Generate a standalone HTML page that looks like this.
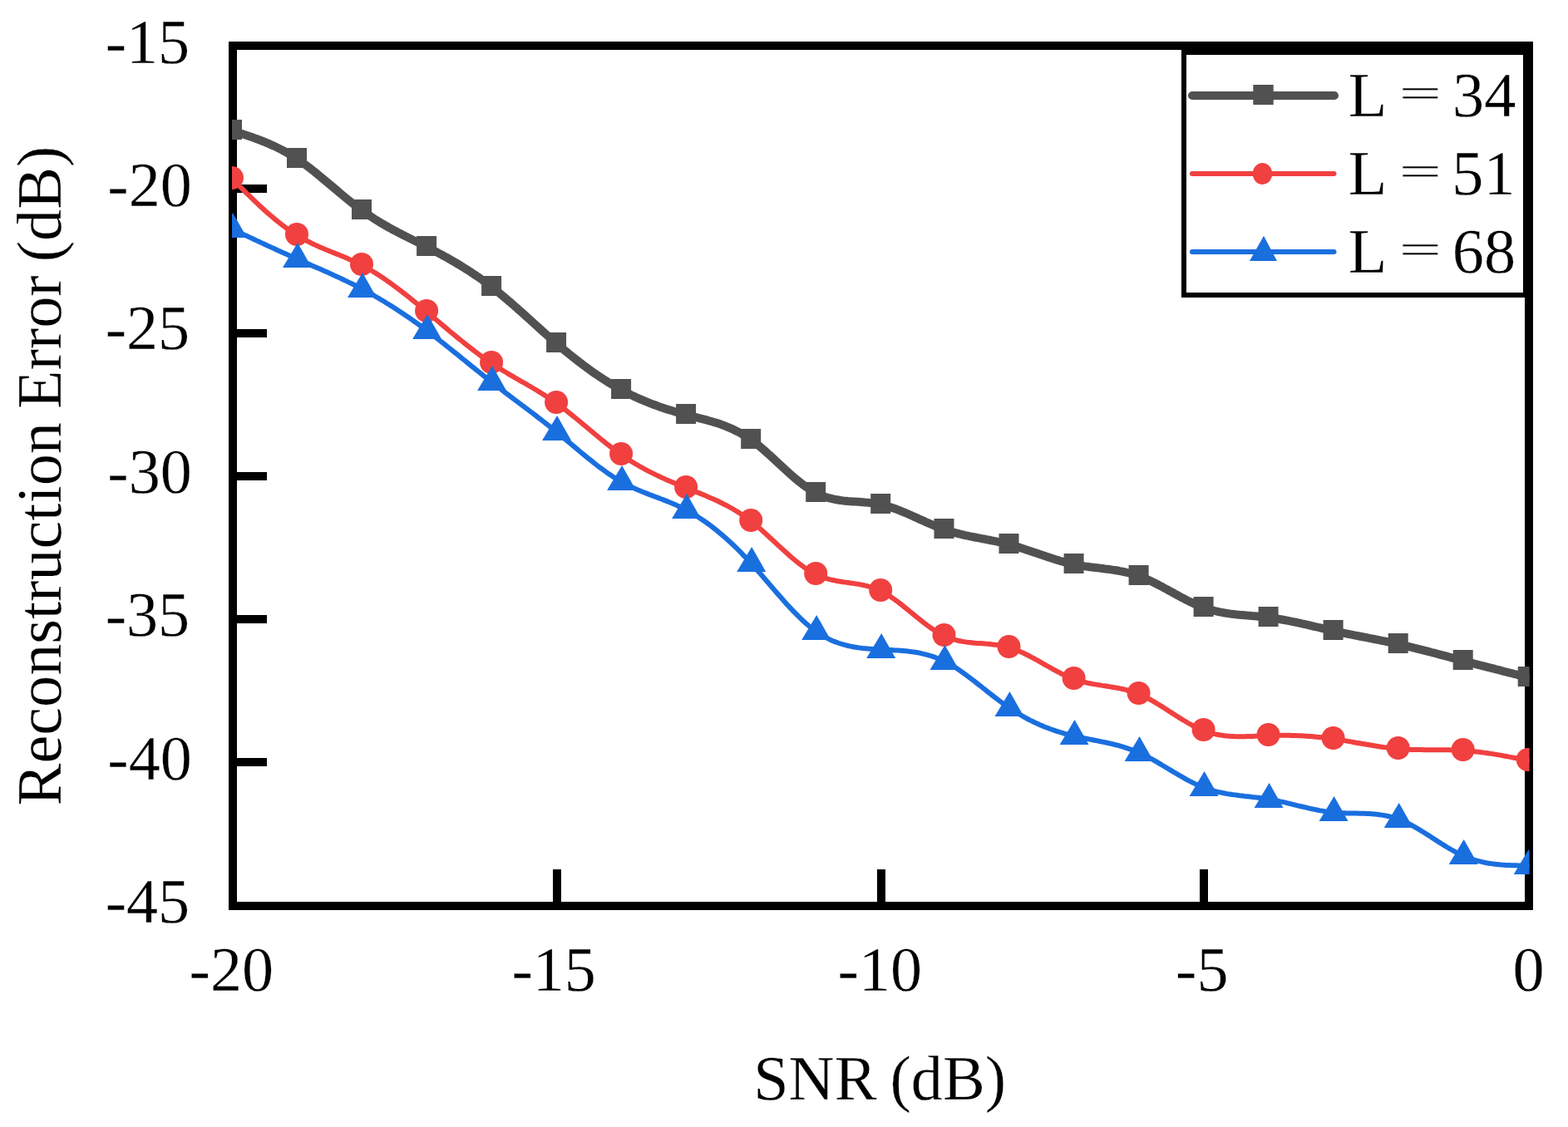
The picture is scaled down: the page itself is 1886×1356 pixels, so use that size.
<!DOCTYPE html>
<html lang="en"><head><meta charset="utf-8"><title>Reconstruction Error (dB)</title>
<style>html,body{margin:0;padding:0;background:#fff}body{width:1886px;height:1356px;overflow:hidden}svg{display:block}text{font-family:"Liberation Serif",serif;font-size:76.2px;fill:#000;stroke:#fff;stroke-width:0.3px;stroke-linejoin:round}</style>
</head><body>
<svg width="1886" height="1356" viewBox="0 0 1886 1356">
<rect width="1886" height="1356" fill="#fff"/>
<defs><clipPath id="plot"><rect x="279" y="55" width="1560.6" height="1035"/></clipPath></defs>
<g shape-rendering="crispEdges">
<rect x="280.1" y="55" width="1558.6" height="1034.5" fill="none" stroke="#000" stroke-width="10"/>
<rect x="284" y="222" width="37" height="10" fill="#000"/>
<rect x="284" y="396" width="37" height="10" fill="#000"/>
<rect x="284" y="568" width="37" height="10" fill="#000"/>
<rect x="284" y="740" width="37" height="10" fill="#000"/>
<rect x="284" y="912" width="37" height="10" fill="#000"/>
<rect x="665.0" y="1046.4" width="10" height="39" fill="#000"/>
<rect x="1055.0" y="1046.4" width="10" height="39" fill="#000"/>
<rect x="1443.3" y="1046.4" width="10" height="39" fill="#000"/>
</g>
<g clip-path="url(#plot)">
<polyline points="279.0,157.0 282.0,158.0 285.0,158.9 288.0,159.9 291.0,160.9 294.0,161.9 297.0,162.9 300.0,164.0 303.0,165.0 306.0,166.1 309.0,167.2 312.0,168.3 315.0,169.5 318.0,170.7 321.0,172.0 324.0,173.2 327.0,174.6 330.0,175.9 333.0,177.4 336.0,178.9 339.0,180.4 342.0,182.0 345.0,183.7 348.0,185.4 351.0,187.2 354.0,189.0 357.0,191.0 360.0,193.0 363.0,195.1 366.0,197.3 369.0,199.5 372.0,201.7 375.0,204.1 378.0,206.4 381.0,208.9 384.0,211.3 387.0,213.8 390.0,216.3 393.0,218.8 396.0,221.3 399.0,223.9 402.0,226.4 405.0,228.9 408.0,231.5 411.0,234.0 414.0,236.5 417.0,239.0 420.0,241.4 423.0,243.8 426.0,246.2 429.0,248.5 432.0,250.8 435.0,253.0 438.0,255.1 441.0,257.2 444.0,259.2 447.0,261.2 450.0,263.2 453.0,265.0 456.0,266.9 459.0,268.7 462.0,270.4 465.0,272.1 468.0,273.8 471.0,275.5 474.0,277.1 477.0,278.7 480.0,280.3 483.0,281.8 486.0,283.4 489.0,284.9 492.0,286.4 495.0,287.9 498.0,289.4 501.0,290.9 504.0,292.4 507.0,293.9 510.0,295.4 513.0,297.0 516.0,298.5 519.0,300.1 522.0,301.6 525.0,303.2 528.0,304.8 531.0,306.4 534.0,308.1 537.0,309.7 540.0,311.4 543.0,313.1 546.0,314.8 549.0,316.6 552.0,318.4 555.0,320.2 558.0,322.1 561.0,324.0 564.0,325.9 567.0,327.8 570.0,329.8 573.0,331.9 576.0,333.9 579.0,336.0 582.0,338.2 585.0,340.4 588.0,342.6 591.0,344.9 594.0,347.3 597.0,349.7 600.0,352.1 603.0,354.6 606.0,357.1 609.0,359.6 612.0,362.2 615.0,364.7 618.0,367.4 621.0,370.0 624.0,372.7 627.0,375.3 630.0,378.0 633.0,380.7 636.0,383.4 639.0,386.2 642.0,388.9 645.0,391.6 648.0,394.3 651.0,397.0 654.0,399.7 657.0,402.4 660.0,405.0 663.0,407.7 666.0,410.3 669.0,412.9 672.0,415.5 675.0,418.0 678.0,420.6 681.0,423.0 684.0,425.5 687.0,427.9 690.0,430.3 693.0,432.7 696.0,435.0 699.0,437.3 702.0,439.6 705.0,441.8 708.0,444.0 711.0,446.2 714.0,448.3 717.0,450.4 720.0,452.4 723.0,454.4 726.0,456.4 729.0,458.3 732.0,460.2 735.0,462.0 738.0,463.8 741.0,465.6 744.0,467.3 747.0,468.9 750.0,470.5 753.0,472.1 756.0,473.6 759.0,475.1 762.0,476.6 765.0,478.0 768.0,479.3 771.0,480.6 774.0,481.9 777.0,483.2 780.0,484.4 783.0,485.6 786.0,486.7 789.0,487.8 792.0,488.9 795.0,489.9 798.0,490.9 801.0,491.9 804.0,492.9 807.0,493.8 810.0,494.7 813.0,495.6 816.0,496.5 819.0,497.3 822.0,498.2 825.0,499.0 828.0,499.7 831.0,500.5 834.0,501.3 837.0,502.0 840.0,502.8 843.0,503.6 846.0,504.3 849.0,505.1 852.0,506.0 855.0,506.8 858.0,507.7 861.0,508.6 864.0,509.6 867.0,510.6 870.0,511.7 873.0,512.9 876.0,514.1 879.0,515.4 882.0,516.7 885.0,518.2 888.0,519.7 891.0,521.3 894.0,523.1 897.0,524.9 900.0,526.8 903.0,528.9 906.0,531.1 909.0,533.4 912.0,535.7 915.0,538.2 918.0,540.8 921.0,543.4 924.0,546.1 927.0,548.8 930.0,551.5 933.0,554.3 936.0,557.1 939.0,559.9 942.0,562.7 945.0,565.4 948.0,568.2 951.0,570.9 954.0,573.5 957.0,576.1 960.0,578.5 963.0,580.9 966.0,583.2 969.0,585.4 972.0,587.5 975.0,589.5 978.0,591.3 981.0,592.9 984.0,594.4 987.0,595.7 990.0,596.9 993.0,598.0 996.0,598.9 999.0,599.7 1002.0,600.4 1005.0,601.0 1008.0,601.5 1011.0,602.0 1014.0,602.4 1017.0,602.7 1020.0,603.0 1023.0,603.2 1026.0,603.4 1029.0,603.6 1032.0,603.8 1035.0,604.0 1038.0,604.2 1041.0,604.5 1044.0,604.7 1047.0,605.1 1050.0,605.4 1053.0,605.9 1056.0,606.4 1059.0,607.0 1062.0,607.6 1065.0,608.4 1068.0,609.3 1071.0,610.2 1074.0,611.2 1077.0,612.3 1080.0,613.4 1083.0,614.6 1086.0,615.8 1089.0,617.0 1092.0,618.3 1095.0,619.7 1098.0,621.0 1101.0,622.4 1104.0,623.7 1107.0,625.1 1110.0,626.4 1113.0,627.8 1116.0,629.1 1119.0,630.4 1122.0,631.7 1125.0,633.0 1128.0,634.2 1131.0,635.4 1134.0,636.5 1137.0,637.5 1140.0,638.5 1143.0,639.4 1146.0,640.3 1149.0,641.1 1152.0,641.9 1155.0,642.7 1158.0,643.4 1161.0,644.1 1164.0,644.7 1167.0,645.3 1170.0,646.0 1173.0,646.5 1176.0,647.1 1179.0,647.7 1182.0,648.3 1185.0,648.8 1188.0,649.4 1191.0,650.0 1194.0,650.6 1197.0,651.2 1200.0,651.8 1203.0,652.5 1206.0,653.1 1209.0,653.8 1212.0,654.6 1215.0,655.4 1218.0,656.2 1221.0,657.1 1224.0,658.0 1227.0,658.9 1230.0,659.9 1233.0,660.9 1236.0,661.9 1239.0,662.9 1242.0,663.9 1245.0,664.9 1248.0,666.0 1251.0,667.0 1254.0,668.0 1257.0,669.0 1260.0,670.1 1263.0,671.0 1266.0,672.0 1269.0,673.0 1272.0,673.9 1275.0,674.8 1278.0,675.6 1281.0,676.5 1284.0,677.2 1287.0,678.0 1290.0,678.7 1293.0,679.3 1296.0,679.9 1299.0,680.4 1302.0,680.9 1305.0,681.4 1308.0,681.8 1311.0,682.2 1314.0,682.6 1317.0,682.9 1320.0,683.3 1323.0,683.6 1326.0,684.0 1329.0,684.4 1332.0,684.7 1335.0,685.1 1338.0,685.6 1341.0,686.0 1344.0,686.5 1347.0,687.1 1350.0,687.6 1353.0,688.3 1356.0,689.0 1359.0,689.7 1362.0,690.6 1365.0,691.5 1368.0,692.4 1371.0,693.5 1374.0,694.7 1377.0,695.9 1380.0,697.2 1383.0,698.6 1386.0,700.0 1389.0,701.5 1392.0,703.0 1395.0,704.6 1398.0,706.2 1401.0,707.8 1404.0,709.4 1407.0,711.1 1410.0,712.7 1413.0,714.4 1416.0,716.0 1419.0,717.7 1422.0,719.3 1425.0,720.8 1428.0,722.4 1431.0,723.9 1434.0,725.3 1437.0,726.7 1440.0,728.0 1443.0,729.2 1446.0,730.4 1449.0,731.5 1452.0,732.5 1455.0,733.4 1458.0,734.2 1461.0,735.0 1464.0,735.7 1467.0,736.4 1470.0,736.9 1473.0,737.5 1476.0,737.9 1479.0,738.4 1482.0,738.8 1485.0,739.1 1488.0,739.5 1491.0,739.8 1494.0,740.0 1497.0,740.3 1500.0,740.6 1503.0,740.8 1506.0,741.1 1509.0,741.3 1512.0,741.6 1515.0,741.9 1518.0,742.2 1521.0,742.5 1524.0,742.8 1527.0,743.2 1530.0,743.6 1533.0,744.0 1536.0,744.5 1539.0,745.0 1542.0,745.5 1545.0,746.0 1548.0,746.6 1551.0,747.2 1554.0,747.8 1557.0,748.4 1560.0,749.0 1563.0,749.7 1566.0,750.4 1569.0,751.0 1572.0,751.7 1575.0,752.4 1578.0,753.1 1581.0,753.8 1584.0,754.5 1587.0,755.2 1590.0,755.9 1593.0,756.6 1596.0,757.3 1599.0,758.0 1602.0,758.6 1605.0,759.3 1608.0,759.9 1611.0,760.6 1614.0,761.2 1617.0,761.8 1620.0,762.5 1623.0,763.1 1626.0,763.7 1629.0,764.3 1632.0,764.9 1635.0,765.5 1638.0,766.0 1641.0,766.6 1644.0,767.2 1647.0,767.8 1650.0,768.4 1653.0,769.0 1656.0,769.6 1659.0,770.2 1662.0,770.8 1665.0,771.4 1668.0,772.0 1671.0,772.7 1674.0,773.3 1677.0,774.0 1680.0,774.6 1683.0,775.3 1686.0,776.0 1689.0,776.7 1692.0,777.4 1695.0,778.1 1698.0,778.8 1701.0,779.6 1704.0,780.3 1707.0,781.1 1710.0,781.8 1713.0,782.6 1716.0,783.4 1719.0,784.2 1722.0,785.0 1725.0,785.7 1728.0,786.5 1731.0,787.3 1734.0,788.1 1737.0,788.9 1740.0,789.7 1743.0,790.5 1746.0,791.3 1749.0,792.1 1752.0,793.0 1755.0,793.8 1758.0,794.6 1761.0,795.4 1764.0,796.1 1767.0,796.9 1770.0,797.7 1773.0,798.5 1776.0,799.3 1779.0,800.1 1782.0,800.8 1785.0,801.6 1788.0,802.4 1791.0,803.2 1794.0,803.9 1797.0,804.7 1800.0,805.5 1803.0,806.2 1806.0,807.0 1809.0,807.8 1812.0,808.5 1815.0,809.3 1818.0,810.0 1821.0,810.8 1824.0,811.5 1827.0,812.3 1830.0,813.1 1833.0,813.8 1836.0,814.6 1837.7,815.0" fill="none" stroke="#515151" stroke-width="10" stroke-linejoin="round" stroke-linecap="round"/>
<rect x="267.0" y="144.0" width="24" height="24" fill="#515151"/>
<rect x="345.0" y="178.0" width="24" height="24" fill="#515151"/>
<rect x="423.0" y="240.0" width="24" height="24" fill="#515151"/>
<rect x="501.1" y="284.0" width="24" height="24" fill="#515151"/>
<rect x="579.1" y="332.0" width="24" height="24" fill="#515151"/>
<rect x="657.1" y="400.0" width="24" height="24" fill="#515151"/>
<rect x="735.1" y="456.0" width="24" height="24" fill="#515151"/>
<rect x="813.1" y="486.0" width="24" height="24" fill="#515151"/>
<rect x="891.2" y="516.0" width="24" height="24" fill="#515151"/>
<rect x="969.2" y="580.0" width="24" height="24" fill="#515151"/>
<rect x="1047.2" y="594.0" width="24" height="24" fill="#515151"/>
<rect x="1123.5" y="624.0" width="24" height="24" fill="#515151"/>
<rect x="1201.5" y="642.0" width="24" height="24" fill="#515151"/>
<rect x="1279.6" y="666.0" width="24" height="24" fill="#515151"/>
<rect x="1357.6" y="680.0" width="24" height="24" fill="#515151"/>
<rect x="1435.6" y="718.0" width="24" height="24" fill="#515151"/>
<rect x="1513.6" y="730.0" width="24" height="24" fill="#515151"/>
<rect x="1591.6" y="746.0" width="24" height="24" fill="#515151"/>
<rect x="1669.7" y="762.0" width="24" height="24" fill="#515151"/>
<rect x="1747.7" y="782.0" width="24" height="24" fill="#515151"/>
<rect x="1825.7" y="802.0" width="24" height="24" fill="#515151"/>
<polyline points="279.0,215.0 282.0,218.0 285.0,221.0 288.0,224.0 291.0,226.9 294.0,229.9 297.0,232.8 300.0,235.7 303.0,238.6 306.0,241.5 309.0,244.4 312.0,247.2 315.0,249.9 318.0,252.7 321.0,255.4 324.0,258.0 327.0,260.6 330.0,263.1 333.0,265.6 336.0,268.0 339.0,270.4 342.0,272.7 345.0,274.9 348.0,277.0 351.0,279.1 354.0,281.1 357.0,283.0 360.0,284.8 363.0,286.5 366.0,288.2 369.0,289.8 372.0,291.3 375.0,292.8 378.0,294.2 381.0,295.6 384.0,296.9 387.0,298.2 390.0,299.5 393.0,300.7 396.0,302.0 399.0,303.2 402.0,304.4 405.0,305.6 408.0,306.8 411.0,308.0 414.0,309.3 417.0,310.6 420.0,311.9 423.0,313.2 426.0,314.6 429.0,316.0 432.0,317.5 435.0,319.0 438.0,320.6 441.0,322.2 444.0,323.9 447.0,325.7 450.0,327.5 453.0,329.4 456.0,331.3 459.0,333.3 462.0,335.3 465.0,337.4 468.0,339.5 471.0,341.7 474.0,343.9 477.0,346.1 480.0,348.4 483.0,350.7 486.0,353.0 489.0,355.3 492.0,357.7 495.0,360.1 498.0,362.6 501.0,365.0 504.0,367.5 507.0,370.0 510.0,372.4 513.0,374.9 516.0,377.5 519.0,380.0 522.0,382.5 525.0,385.0 528.0,387.6 531.0,390.1 534.0,392.6 537.0,395.1 540.0,397.7 543.0,400.2 546.0,402.6 549.0,405.1 552.0,407.6 555.0,410.0 558.0,412.4 561.0,414.8 564.0,417.2 567.0,419.5 570.0,421.8 573.0,424.1 576.0,426.3 579.0,428.5 582.0,430.7 585.0,432.8 588.0,434.9 591.0,436.9 594.0,438.9 597.0,440.9 600.0,442.8 603.0,444.6 606.0,446.5 609.0,448.3 612.0,450.1 615.0,451.8 618.0,453.6 621.0,455.3 624.0,457.1 627.0,458.8 630.0,460.5 633.0,462.2 636.0,464.0 639.0,465.7 642.0,467.5 645.0,469.3 648.0,471.1 651.0,473.0 654.0,474.9 657.0,476.8 660.0,478.7 663.0,480.8 666.0,482.8 669.0,484.9 672.0,487.1 675.0,489.3 678.0,491.6 681.0,493.9 684.0,496.3 687.0,498.7 690.0,501.1 693.0,503.5 696.0,506.0 699.0,508.5 702.0,511.0 705.0,513.5 708.0,516.0 711.0,518.5 714.0,521.0 717.0,523.5 720.0,526.0 723.0,528.5 726.0,530.9 729.0,533.3 732.0,535.7 735.0,538.0 738.0,540.3 741.0,542.6 744.0,544.8 747.0,546.9 750.0,549.0 753.0,551.0 756.0,553.0 759.0,554.9 762.0,556.7 765.0,558.5 768.0,560.3 771.0,562.0 774.0,563.7 777.0,565.3 780.0,566.9 783.0,568.4 786.0,569.9 789.0,571.4 792.0,572.8 795.0,574.2 798.0,575.6 801.0,576.9 804.0,578.2 807.0,579.5 810.0,580.8 813.0,582.1 816.0,583.3 819.0,584.5 822.0,585.7 825.0,586.9 828.0,588.1 831.0,589.3 834.0,590.5 837.0,591.7 840.0,592.9 843.0,594.1 846.0,595.3 849.0,596.6 852.0,597.9 855.0,599.2 858.0,600.5 861.0,601.8 864.0,603.2 867.0,604.7 870.0,606.2 873.0,607.7 876.0,609.3 879.0,611.0 882.0,612.7 885.0,614.5 888.0,616.4 891.0,618.3 894.0,620.3 897.0,622.4 900.0,624.6 903.0,626.9 906.0,629.2 909.0,631.7 912.0,634.2 915.0,636.8 918.0,639.5 921.0,642.2 924.0,644.9 927.0,647.7 930.0,650.5 933.0,653.3 936.0,656.1 939.0,658.9 942.0,661.6 945.0,664.3 948.0,667.0 951.0,669.7 954.0,672.2 957.0,674.7 960.0,677.1 963.0,679.5 966.0,681.7 969.0,683.8 972.0,685.8 975.0,687.6 978.0,689.3 981.0,690.9 984.0,692.3 987.0,693.6 990.0,694.7 993.0,695.7 996.0,696.6 999.0,697.4 1002.0,698.0 1005.0,698.7 1008.0,699.2 1011.0,699.7 1014.0,700.2 1017.0,700.6 1020.0,701.0 1023.0,701.5 1026.0,701.9 1029.0,702.4 1032.0,702.8 1035.0,703.4 1038.0,704.0 1041.0,704.7 1044.0,705.4 1047.0,706.3 1050.0,707.2 1053.0,708.3 1056.0,709.5 1059.0,710.9 1062.0,712.4 1065.0,714.1 1068.0,715.9 1071.0,717.8 1074.0,719.9 1077.0,722.0 1080.0,724.2 1083.0,726.5 1086.0,728.9 1089.0,731.3 1092.0,733.7 1095.0,736.2 1098.0,738.6 1101.0,741.1 1104.0,743.5 1107.0,745.9 1110.0,748.3 1113.0,750.6 1116.0,752.9 1119.0,755.0 1122.0,757.1 1125.0,759.1 1128.0,760.9 1131.0,762.7 1134.0,764.3 1137.0,765.7 1140.0,767.0 1143.0,768.1 1146.0,769.1 1149.0,769.9 1152.0,770.7 1155.0,771.3 1158.0,771.9 1161.0,772.4 1164.0,772.8 1167.0,773.1 1170.0,773.4 1173.0,773.7 1176.0,773.9 1179.0,774.1 1182.0,774.3 1185.0,774.6 1188.0,774.8 1191.0,775.1 1194.0,775.4 1197.0,775.7 1200.0,776.1 1203.0,776.6 1206.0,777.2 1209.0,777.8 1212.0,778.6 1215.0,779.4 1218.0,780.4 1221.0,781.5 1224.0,782.7 1227.0,784.0 1230.0,785.3 1233.0,786.8 1236.0,788.3 1239.0,789.8 1242.0,791.4 1245.0,793.0 1248.0,794.7 1251.0,796.4 1254.0,798.1 1257.0,799.8 1260.0,801.5 1263.0,803.2 1266.0,804.9 1269.0,806.5 1272.0,808.1 1275.0,809.7 1278.0,811.2 1281.0,812.6 1284.0,813.9 1287.0,815.2 1290.0,816.4 1293.0,817.5 1296.0,818.5 1299.0,819.4 1302.0,820.2 1305.0,821.0 1308.0,821.7 1311.0,822.3 1314.0,822.9 1317.0,823.4 1320.0,823.9 1323.0,824.4 1326.0,824.9 1329.0,825.3 1332.0,825.8 1335.0,826.3 1338.0,826.7 1341.0,827.3 1344.0,827.8 1347.0,828.4 1350.0,829.0 1353.0,829.7 1356.0,830.5 1359.0,831.3 1362.0,832.2 1365.0,833.3 1368.0,834.4 1371.0,835.6 1374.0,836.9 1377.0,838.4 1380.0,839.9 1383.0,841.5 1386.0,843.1 1389.0,844.9 1392.0,846.7 1395.0,848.5 1398.0,850.4 1401.0,852.3 1404.0,854.2 1407.0,856.2 1410.0,858.1 1413.0,860.0 1416.0,862.0 1419.0,863.9 1422.0,865.7 1425.0,867.5 1428.0,869.3 1431.0,871.0 1434.0,872.7 1437.0,874.2 1440.0,875.7 1443.0,877.1 1446.0,878.4 1449.0,879.5 1452.0,880.6 1455.0,881.5 1458.0,882.4 1461.0,883.1 1464.0,883.7 1467.0,884.3 1470.0,884.8 1473.0,885.2 1476.0,885.5 1479.0,885.8 1482.0,885.9 1485.0,886.1 1488.0,886.2 1491.0,886.2 1494.0,886.2 1497.0,886.2 1500.0,886.1 1503.0,886.0 1506.0,885.9 1509.0,885.8 1512.0,885.6 1515.0,885.5 1518.0,885.3 1521.0,885.2 1524.0,885.1 1527.0,885.0 1530.0,884.9 1533.0,884.8 1536.0,884.7 1539.0,884.7 1542.0,884.7 1545.0,884.7 1548.0,884.7 1551.0,884.8 1554.0,884.9 1557.0,884.9 1560.0,885.1 1563.0,885.2 1566.0,885.3 1569.0,885.5 1572.0,885.7 1575.0,885.9 1578.0,886.1 1581.0,886.4 1584.0,886.7 1587.0,887.0 1590.0,887.3 1593.0,887.6 1596.0,888.0 1599.0,888.4 1602.0,888.8 1605.0,889.2 1608.0,889.6 1611.0,890.1 1614.0,890.6 1617.0,891.1 1620.0,891.6 1623.0,892.1 1626.0,892.6 1629.0,893.2 1632.0,893.7 1635.0,894.2 1638.0,894.8 1641.0,895.3 1644.0,895.8 1647.0,896.3 1650.0,896.8 1653.0,897.3 1656.0,897.8 1659.0,898.3 1662.0,898.7 1665.0,899.1 1668.0,899.5 1671.0,899.9 1674.0,900.3 1677.0,900.6 1680.0,900.9 1683.0,901.1 1686.0,901.3 1689.0,901.5 1692.0,901.7 1695.0,901.8 1698.0,901.9 1701.0,902.0 1704.0,902.0 1707.0,902.1 1710.0,902.1 1713.0,902.2 1716.0,902.2 1719.0,902.2 1722.0,902.2 1725.0,902.2 1728.0,902.2 1731.0,902.2 1734.0,902.2 1737.0,902.2 1740.0,902.3 1743.0,902.3 1746.0,902.4 1749.0,902.5 1752.0,902.6 1755.0,902.7 1758.0,902.9 1761.0,903.1 1764.0,903.3 1767.0,903.6 1770.0,903.8 1773.0,904.1 1776.0,904.5 1779.0,904.8 1782.0,905.2 1785.0,905.6 1788.0,906.0 1791.0,906.5 1794.0,906.9 1797.0,907.4 1800.0,907.9 1803.0,908.4 1806.0,908.9 1809.0,909.5 1812.0,910.0 1815.0,910.6 1818.0,911.1 1821.0,911.7 1824.0,912.3 1827.0,912.9 1830.0,913.5 1833.0,914.1 1836.0,914.7 1837.7,915.0" fill="none" stroke="#F14040" stroke-width="6" stroke-linejoin="round" stroke-linecap="round"/>
<circle cx="279.0" cy="214.0" r="14" fill="#F14040"/>
<circle cx="357.0" cy="282.0" r="14" fill="#F14040"/>
<circle cx="435.0" cy="318.0" r="14" fill="#F14040"/>
<circle cx="513.1" cy="374.0" r="14" fill="#F14040"/>
<circle cx="591.1" cy="436.0" r="14" fill="#F14040"/>
<circle cx="669.1" cy="484.0" r="14" fill="#F14040"/>
<circle cx="747.1" cy="546.0" r="14" fill="#F14040"/>
<circle cx="825.1" cy="586.0" r="14" fill="#F14040"/>
<circle cx="903.2" cy="626.0" r="14" fill="#F14040"/>
<circle cx="981.2" cy="690.0" r="14" fill="#F14040"/>
<circle cx="1059.2" cy="710.0" r="14" fill="#F14040"/>
<circle cx="1135.5" cy="764.0" r="14" fill="#F14040"/>
<circle cx="1213.5" cy="778.0" r="14" fill="#F14040"/>
<circle cx="1291.6" cy="816.0" r="14" fill="#F14040"/>
<circle cx="1369.6" cy="834.0" r="14" fill="#F14040"/>
<circle cx="1447.6" cy="878.0" r="14" fill="#F14040"/>
<circle cx="1525.6" cy="884.0" r="14" fill="#F14040"/>
<circle cx="1603.6" cy="888.0" r="14" fill="#F14040"/>
<circle cx="1681.7" cy="900.0" r="14" fill="#F14040"/>
<circle cx="1759.7" cy="902.0" r="14" fill="#F14040"/>
<circle cx="1837.7" cy="914.0" r="14" fill="#F14040"/>
<polyline points="279.0,275.5 282.0,276.9 285.0,278.3 288.0,279.7 291.0,281.2 294.0,282.6 297.0,284.0 300.0,285.4 303.0,286.8 306.0,288.2 309.0,289.6 312.0,291.0 315.0,292.4 318.0,293.8 321.0,295.2 324.0,296.6 327.0,297.9 330.0,299.3 333.0,300.7 336.0,302.1 339.0,303.4 342.0,304.8 345.0,306.1 348.0,307.5 351.0,308.8 354.0,310.2 357.0,311.5 360.0,312.8 363.0,314.1 366.0,315.4 369.0,316.8 372.0,318.1 375.0,319.4 378.0,320.7 381.0,322.0 384.0,323.3 387.0,324.6 390.0,326.0 393.0,327.3 396.0,328.6 399.0,330.0 402.0,331.4 405.0,332.7 408.0,334.1 411.0,335.5 414.0,337.0 417.0,338.4 420.0,339.9 423.0,341.3 426.0,342.8 429.0,344.4 432.0,345.9 435.0,347.5 438.0,349.1 441.0,350.7 444.0,352.4 447.0,354.0 450.0,355.7 453.0,357.5 456.0,359.2 459.0,361.0 462.0,362.8 465.0,364.7 468.0,366.5 471.0,368.4 474.0,370.3 477.0,372.3 480.0,374.2 483.0,376.2 486.0,378.2 489.0,380.3 492.0,382.3 495.0,384.4 498.0,386.5 501.0,388.7 504.0,390.8 507.0,393.0 510.0,395.2 513.0,397.5 516.0,399.7 519.0,402.0 522.0,404.3 525.0,406.6 528.0,409.0 531.0,411.3 534.0,413.7 537.0,416.1 540.0,418.5 543.0,420.9 546.0,423.3 549.0,425.7 552.0,428.1 555.0,430.6 558.0,433.0 561.0,435.4 564.0,437.9 567.0,440.3 570.0,442.7 573.0,445.1 576.0,447.5 579.0,449.9 582.0,452.3 585.0,454.7 588.0,457.1 591.0,459.4 594.0,461.8 597.0,464.1 600.0,466.4 603.0,468.7 606.0,471.0 609.0,473.3 612.0,475.5 615.0,477.8 618.0,480.1 621.0,482.3 624.0,484.6 627.0,486.8 630.0,489.1 633.0,491.4 636.0,493.6 639.0,495.9 642.0,498.2 645.0,500.5 648.0,502.8 651.0,505.1 654.0,507.5 657.0,509.8 660.0,512.2 663.0,514.6 666.0,517.0 669.0,519.4 672.0,521.9 675.0,524.4 678.0,526.9 681.0,529.4 684.0,531.9 687.0,534.4 690.0,536.9 693.0,539.4 696.0,542.0 699.0,544.5 702.0,546.9 705.0,549.4 708.0,551.8 711.0,554.2 714.0,556.6 717.0,559.0 720.0,561.3 723.0,563.5 726.0,565.7 729.0,567.9 732.0,570.0 735.0,572.0 738.0,574.0 741.0,575.9 744.0,577.7 747.0,579.4 750.0,581.1 753.0,582.7 756.0,584.2 759.0,585.7 762.0,587.1 765.0,588.4 768.0,589.7 771.0,591.0 774.0,592.2 777.0,593.4 780.0,594.6 783.0,595.7 786.0,596.9 789.0,598.0 792.0,599.1 795.0,600.3 798.0,601.4 801.0,602.6 804.0,603.8 807.0,605.0 810.0,606.3 813.0,607.6 816.0,609.0 819.0,610.4 822.0,611.9 825.0,613.4 828.0,615.0 831.0,616.7 834.0,618.5 837.0,620.3 840.0,622.2 843.0,624.2 846.0,626.2 849.0,628.3 852.0,630.5 855.0,632.7 858.0,635.0 861.0,637.4 864.0,639.9 867.0,642.4 870.0,644.9 873.0,647.6 876.0,650.3 879.0,653.0 882.0,655.8 885.0,658.7 888.0,661.7 891.0,664.7 894.0,667.8 897.0,670.9 900.0,674.1 903.0,677.3 906.0,680.6 909.0,684.0 912.0,687.4 915.0,690.8 918.0,694.3 921.0,697.8 924.0,701.2 927.0,704.7 930.0,708.2 933.0,711.7 936.0,715.2 939.0,718.6 942.0,722.0 945.0,725.4 948.0,728.7 951.0,731.9 954.0,735.1 957.0,738.2 960.0,741.2 963.0,744.1 966.0,747.0 969.0,749.7 972.0,752.3 975.0,754.8 978.0,757.1 981.0,759.4 984.0,761.5 987.0,763.4 990.0,765.2 993.0,766.9 996.0,768.4 999.0,769.9 1002.0,771.2 1005.0,772.4 1008.0,773.5 1011.0,774.5 1014.0,775.4 1017.0,776.2 1020.0,777.0 1023.0,777.6 1026.0,778.2 1029.0,778.7 1032.0,779.2 1035.0,779.6 1038.0,780.0 1041.0,780.3 1044.0,780.6 1047.0,780.8 1050.0,781.0 1053.0,781.2 1056.0,781.3 1059.0,781.5 1062.0,781.6 1065.0,781.8 1068.0,781.9 1071.0,782.0 1074.0,782.2 1077.0,782.4 1080.0,782.6 1083.0,782.8 1086.0,783.0 1089.0,783.3 1092.0,783.6 1095.0,784.0 1098.0,784.4 1101.0,784.8 1104.0,785.3 1107.0,785.9 1110.0,786.6 1113.0,787.3 1116.0,788.1 1119.0,789.0 1122.0,789.9 1125.0,791.0 1128.0,792.2 1131.0,793.4 1134.0,794.8 1137.0,796.2 1140.0,797.8 1143.0,799.5 1146.0,801.3 1149.0,803.1 1152.0,805.1 1155.0,807.1 1158.0,809.2 1161.0,811.4 1164.0,813.6 1167.0,815.8 1170.0,818.1 1173.0,820.4 1176.0,822.8 1179.0,825.1 1182.0,827.5 1185.0,829.9 1188.0,832.3 1191.0,834.7 1194.0,837.0 1197.0,839.4 1200.0,841.7 1203.0,843.9 1206.0,846.2 1209.0,848.3 1212.0,850.4 1215.0,852.5 1218.0,854.5 1221.0,856.4 1224.0,858.2 1227.0,860.0 1230.0,861.7 1233.0,863.4 1236.0,865.0 1239.0,866.6 1242.0,868.0 1245.0,869.5 1248.0,870.8 1251.0,872.2 1254.0,873.4 1257.0,874.7 1260.0,875.8 1263.0,877.0 1266.0,878.0 1269.0,879.1 1272.0,880.1 1275.0,881.0 1278.0,881.9 1281.0,882.8 1284.0,883.6 1287.0,884.4 1290.0,885.1 1293.0,885.8 1296.0,886.5 1299.0,887.2 1302.0,887.8 1305.0,888.4 1308.0,889.0 1311.0,889.6 1314.0,890.2 1317.0,890.8 1320.0,891.4 1323.0,892.0 1326.0,892.6 1329.0,893.2 1332.0,893.8 1335.0,894.5 1338.0,895.2 1341.0,896.0 1344.0,896.7 1347.0,897.5 1350.0,898.4 1353.0,899.3 1356.0,900.3 1359.0,901.3 1362.0,902.4 1365.0,903.6 1368.0,904.8 1371.0,906.1 1374.0,907.5 1377.0,909.0 1380.0,910.5 1383.0,912.1 1386.0,913.7 1389.0,915.4 1392.0,917.1 1395.0,918.9 1398.0,920.7 1401.0,922.5 1404.0,924.3 1407.0,926.1 1410.0,927.9 1413.0,929.7 1416.0,931.4 1419.0,933.2 1422.0,934.9 1425.0,936.6 1428.0,938.3 1431.0,939.9 1434.0,941.4 1437.0,942.9 1440.0,944.3 1443.0,945.6 1446.0,946.9 1449.0,948.0 1452.0,949.1 1455.0,950.1 1458.0,951.0 1461.0,951.8 1464.0,952.6 1467.0,953.3 1470.0,953.9 1473.0,954.5 1476.0,955.1 1479.0,955.5 1482.0,956.0 1485.0,956.4 1488.0,956.8 1491.0,957.2 1494.0,957.5 1497.0,957.9 1500.0,958.2 1503.0,958.5 1506.0,958.9 1509.0,959.2 1512.0,959.6 1515.0,959.9 1518.0,960.3 1521.0,960.8 1524.0,961.2 1527.0,961.7 1530.0,962.3 1533.0,962.9 1536.0,963.5 1539.0,964.1 1542.0,964.8 1545.0,965.4 1548.0,966.2 1551.0,966.9 1554.0,967.6 1557.0,968.3 1560.0,969.1 1563.0,969.8 1566.0,970.5 1569.0,971.2 1572.0,971.9 1575.0,972.6 1578.0,973.3 1581.0,973.9 1584.0,974.5 1587.0,975.1 1590.0,975.6 1593.0,976.1 1596.0,976.6 1599.0,977.0 1602.0,977.3 1605.0,977.6 1608.0,977.9 1611.0,978.1 1614.0,978.2 1617.0,978.3 1620.0,978.4 1623.0,978.5 1626.0,978.5 1629.0,978.6 1632.0,978.6 1635.0,978.7 1638.0,978.8 1641.0,978.8 1644.0,979.0 1647.0,979.1 1650.0,979.3 1653.0,979.5 1656.0,979.8 1659.0,980.2 1662.0,980.6 1665.0,981.1 1668.0,981.7 1671.0,982.3 1674.0,983.1 1677.0,983.9 1680.0,984.9 1683.0,986.0 1686.0,987.2 1689.0,988.5 1692.0,989.9 1695.0,991.4 1698.0,993.0 1701.0,994.6 1704.0,996.4 1707.0,998.1 1710.0,1000.0 1713.0,1001.8 1716.0,1003.7 1719.0,1005.6 1722.0,1007.6 1725.0,1009.5 1728.0,1011.4 1731.0,1013.4 1734.0,1015.3 1737.0,1017.1 1740.0,1019.0 1743.0,1020.8 1746.0,1022.5 1749.0,1024.2 1752.0,1025.8 1755.0,1027.3 1758.0,1028.7 1761.0,1030.1 1764.0,1031.3 1767.0,1032.5 1770.0,1033.5 1773.0,1034.5 1776.0,1035.4 1779.0,1036.2 1782.0,1036.9 1785.0,1037.6 1788.0,1038.2 1791.0,1038.7 1794.0,1039.1 1797.0,1039.6 1800.0,1039.9 1803.0,1040.2 1806.0,1040.5 1809.0,1040.7 1812.0,1040.9 1815.0,1041.0 1818.0,1041.2 1821.0,1041.3 1824.0,1041.3 1827.0,1041.4 1830.0,1041.4 1833.0,1041.5 1836.0,1041.5 1837.7,1041.5" fill="none" stroke="#1A6FDF" stroke-width="6" stroke-linejoin="round" stroke-linecap="round"/>
<polygon points="280.0,256.0 297.0,286.0 262.0,286.0" fill="#1A6FDF"/>
<polygon points="358.0,292.0 375.0,322.0 340.0,322.0" fill="#1A6FDF"/>
<polygon points="436.0,328.0 453.0,358.0 418.0,358.0" fill="#1A6FDF"/>
<polygon points="514.1,378.0 531.1,408.0 496.1,408.0" fill="#1A6FDF"/>
<polygon points="592.1,440.0 609.1,470.0 574.1,470.0" fill="#1A6FDF"/>
<polygon points="670.1,500.0 687.1,530.0 652.1,530.0" fill="#1A6FDF"/>
<polygon points="748.1,560.0 765.1,590.0 730.1,590.0" fill="#1A6FDF"/>
<polygon points="826.1,594.0 843.1,624.0 808.1,624.0" fill="#1A6FDF"/>
<polygon points="904.2,658.0 921.2,688.0 886.2,688.0" fill="#1A6FDF"/>
<polygon points="982.2,740.0 999.2,770.0 964.2,770.0" fill="#1A6FDF"/>
<polygon points="1060.2,762.0 1077.2,792.0 1042.2,792.0" fill="#1A6FDF"/>
<polygon points="1136.5,776.0 1153.5,806.0 1118.5,806.0" fill="#1A6FDF"/>
<polygon points="1214.5,832.0 1231.5,862.0 1196.5,862.0" fill="#1A6FDF"/>
<polygon points="1292.6,866.0 1309.6,896.0 1274.6,896.0" fill="#1A6FDF"/>
<polygon points="1370.6,886.0 1387.6,916.0 1352.6,916.0" fill="#1A6FDF"/>
<polygon points="1448.6,928.0 1465.6,958.0 1430.6,958.0" fill="#1A6FDF"/>
<polygon points="1526.6,942.0 1543.6,972.0 1508.6,972.0" fill="#1A6FDF"/>
<polygon points="1604.6,958.0 1621.6,988.0 1586.6,988.0" fill="#1A6FDF"/>
<polygon points="1682.7,966.0 1699.7,996.0 1664.7,996.0" fill="#1A6FDF"/>
<polygon points="1760.7,1010.0 1777.7,1040.0 1742.7,1040.0" fill="#1A6FDF"/>
<polygon points="1838.7,1022.0 1855.7,1052.0 1820.7,1052.0" fill="#1A6FDF"/>
</g>
<g>
<rect x="1424.2" y="62.7" width="410.4" height="292" fill="#fff" stroke="#000" stroke-width="6" shape-rendering="crispEdges"/>
<rect x="1834" y="50" width="10" height="320" fill="#000" shape-rendering="crispEdges"/>
<rect x="1400" y="50" width="444" height="10" fill="#000" shape-rendering="crispEdges"/>
<line x1="1434" y1="115" x2="1605" y2="115" stroke="#515151" stroke-width="10" stroke-linecap="round"/>
<rect x="1507.3" y="102" width="24.4" height="24" fill="#515151"/>
<line x1="1434" y1="209" x2="1604.5" y2="209" stroke="#F14040" stroke-width="6" stroke-linecap="round"/>
<ellipse cx="1518.5" cy="209" rx="11.7" ry="13" fill="#F14040"/>
<line x1="1434" y1="303" x2="1604.5" y2="303" stroke="#1A6FDF" stroke-width="6" stroke-linecap="round"/>
<polygon points="1520,283.8 1536,314 1503,314" fill="#1A6FDF"/>
<text y="140.0" xml:space="preserve"><tspan x="1621.8">L</tspan><tspan x="1670" dy="-11.2" font-size="50px"> </tspan><tspan font-size="50px" stroke-width="0.3px" x="1682.6" textLength="51.7" lengthAdjust="spacingAndGlyphs">=</tspan><tspan x="1735" dy="11.2"> </tspan><tspan x="1747.1">34</tspan></text>
<text y="234.2" xml:space="preserve"><tspan x="1621.8">L</tspan><tspan x="1670" dy="-11.2" font-size="50px"> </tspan><tspan font-size="50px" stroke-width="0.3px" x="1682.6" textLength="51.7" lengthAdjust="spacingAndGlyphs">=</tspan><tspan x="1735" dy="11.2"> </tspan><tspan x="1746.3">51</tspan></text>
<text y="328.4" xml:space="preserve"><tspan x="1621.8">L</tspan><tspan x="1670" dy="-11.2" font-size="50px"> </tspan><tspan font-size="50px" stroke-width="0.3px" x="1682.6" textLength="51.7" lengthAdjust="spacingAndGlyphs">=</tspan><tspan x="1735" dy="11.2"> </tspan><tspan x="1746.8">68</tspan></text>
</g>
<text x="228.2" y="75.6" text-anchor="end">-15</text>
<text x="230.9" y="248.0" text-anchor="end">-20</text>
<text x="228.2" y="420.4" text-anchor="end">-25</text>
<text x="230.9" y="592.9" text-anchor="end">-30</text>
<text x="228.2" y="765.3" text-anchor="end">-35</text>
<text x="230.9" y="937.7" text-anchor="end">-40</text>
<text x="228.2" y="1110.1" text-anchor="end">-45</text>
<text x="278.4" y="1192" text-anchor="middle">-20</text>
<text x="666.2" y="1192" text-anchor="middle">-15</text>
<text x="1058.4" y="1192" text-anchor="middle">-10</text>
<text x="1445.8" y="1192" text-anchor="middle">-5</text>
<text x="1838.5" y="1192" text-anchor="middle">0</text>
<text x="1058.2" y="1323" text-anchor="middle" style="word-spacing:-3px">SNR (dB)</text>
<text transform="translate(73.2,572.5) rotate(-90)" text-anchor="middle" style="word-spacing:-3px">Reconstruction Error (dB)</text>
</svg></body></html>
